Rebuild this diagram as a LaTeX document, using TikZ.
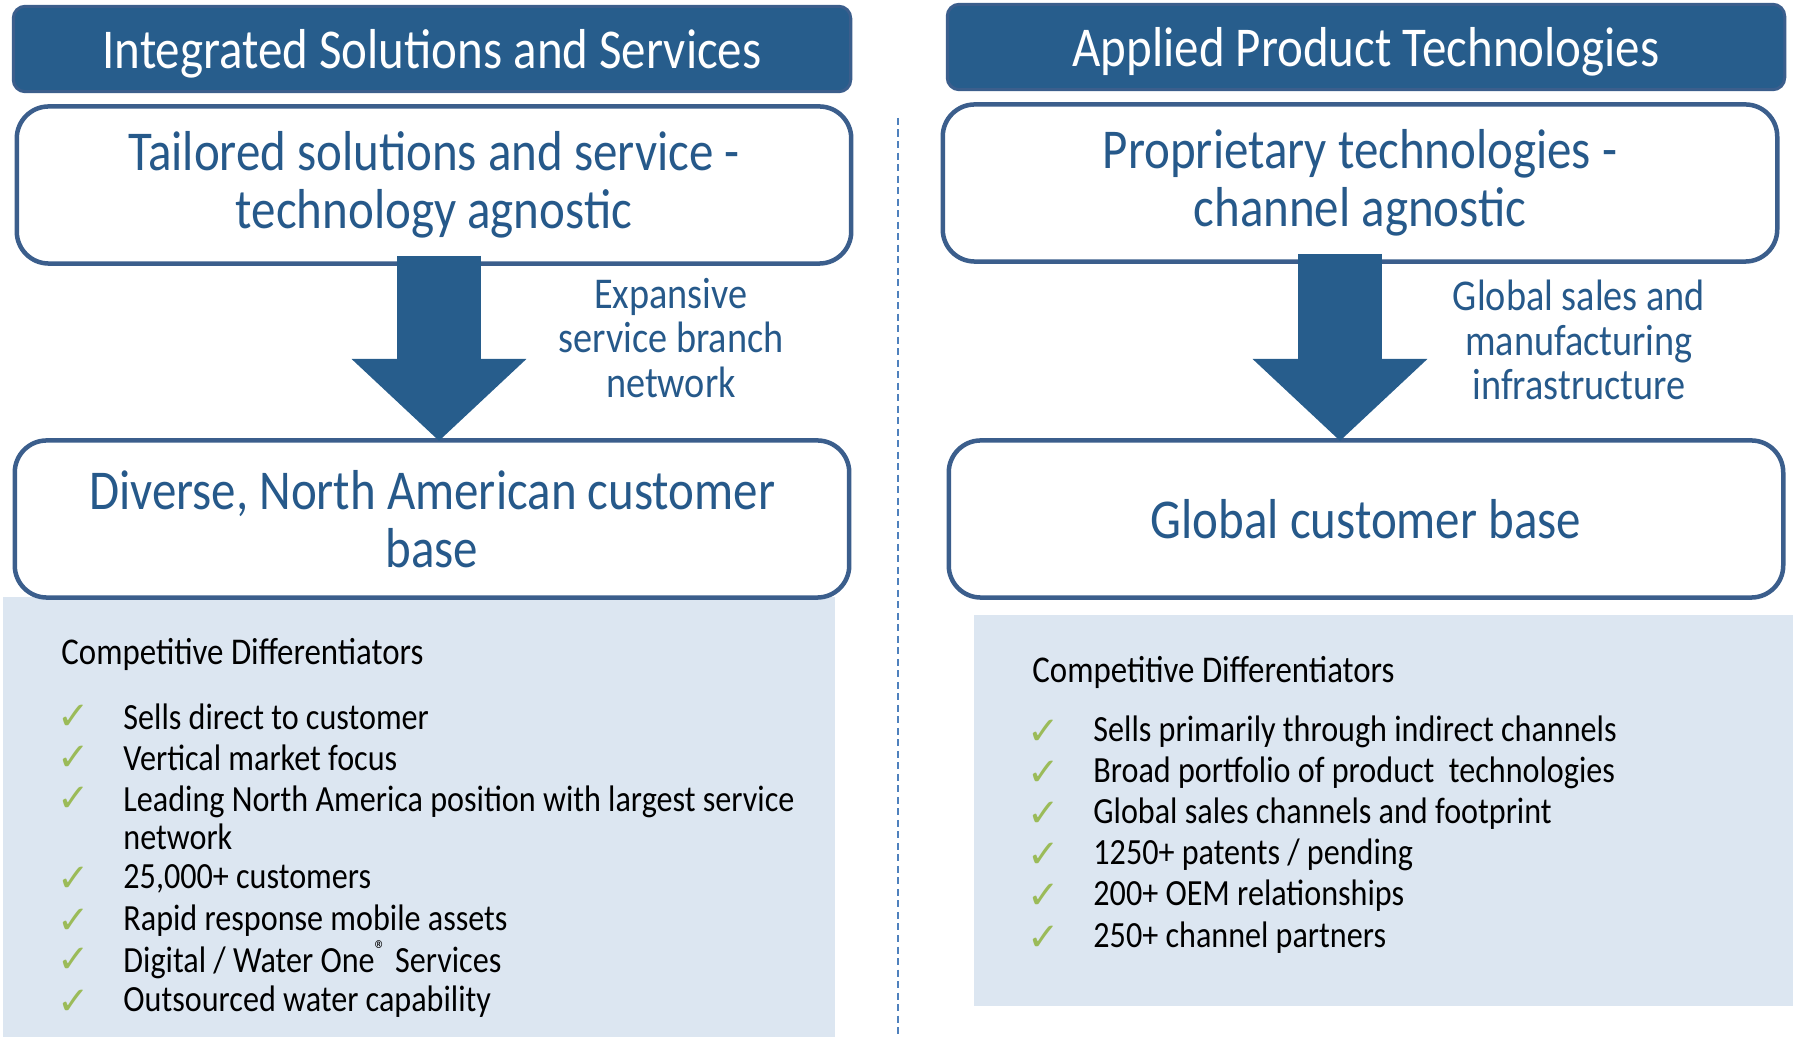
\documentclass[tikz,border=0pt]{standalone}
\usepackage{fontspec}
\setmainfont[FakeStretch=0.87]{Carlito}
\newfontfamily\checkfont{DejaVu Sans}
\usetikzlibrary{arrows.meta,calc}

\definecolor{barblue}{RGB}{39,93,140}
\definecolor{edgeblue}{RGB}{59,94,140}
\definecolor{textblue}{RGB}{38,89,138}
\definecolor{panelgray}{RGB}{220,230,241}
\definecolor{checkgreen}{RGB}{155,187,89}
\definecolor{dashblue}{RGB}{79,129,189}

\tikzset{
  titlebar/.style={fill=barblue,draw=edgeblue,line width=0.03cm,rounded corners=0.12cm,
    minimum width=8.37cm,minimum height=0.84cm,text height=0.5cm,text depth=0.12cm,
    text=white,font=\fontsize{16}{18}\selectfont},
  segbox/.style={fill=white,draw=edgeblue,line width=0.045cm,rounded corners=0.32cm,
    minimum width=8.34cm,minimum height=1.57cm,text=textblue,align=center,
    font=\fontsize{16}{16.5}\selectfont},
  flowarrow/.style={draw=barblue,line width=0.83cm,
    -{Triangle[width=1.7cm,length=0.82cm]},shorten <=-0.07cm},
  flowlabel/.style={text=textblue,align=center,font=\fontsize{12.5}{12.7}\selectfont},
  panel/.style={fill=panelgray},
  listhead/.style={anchor=west,font=\fontsize{10.75}{12}\selectfont},
  listitem/.style={anchor=west,align=left,font=\fontsize{10.5}{10.8}\selectfont},
  tick/.style={text=checkgreen,font=\checkfont\fontsize{11}{11}\selectfont}
}

\begin{document}
\begin{tikzpicture}[x=0.01cm,y=-0.01cm]
  \useasboundingbox (0,0) rectangle (1793,1037);

  % shaded panels behind the lower boxes
  \fill[panel] (3,597) rectangle (835,1037);
  \fill[panel] (974,615) rectangle (1793,1006);

  % divider between the two segments
  \draw[dashblue,line width=0.02cm,dash pattern=on 0.07cm off 0.045cm] (898,118) -- (898,1037);

  % left segment
  \node[titlebar] (isstitle) at (432,49) {Integrated Solutions and Services};
  \node[segbox] (tailored) at (434,185) {Tailored solutions and service -\\technology agnostic};
  \node[segbox] (diverse) at (432,519) {Diverse, North American customer\\base};
  \draw[flowarrow] (439,263) -- (439,441);
  \node[flowlabel] (isslabel) at (671,338) {Expansive\\service branch\\network};

  % right segment
  \node[titlebar] (apttitle) at (1366,47) {Applied Product Technologies};
  \node[segbox] (proprietary) at (1360,183) {Proprietary technologies -\\channel agnostic};
  \node[segbox] (global) at (1366,519) {Global customer base};
  \draw[flowarrow] (1340,261) -- (1340,441);
  \node[flowlabel] (aptlabel) at (1579,340) {Global sales and\\manufacturing\\infrastructure};

  % differentiators, left (check y / text y / text)
  \node[listhead] (isshead) at (49,654) {Competitive Differentiators};
  \foreach \cy/\ty/\txt [count=\i] in {717/717/{Sells direct to customer},
      758/758/{Vertical market focus},
      799/818/{Leading North America position with largest service\\network},
      879/879/{25,000+ customers},
      921/921/{Rapid response mobile assets},
      960/960/{Digital / Water One\textsuperscript{\textregistered} Services},
      1002/1002/{Outsourced water capability}}{
    \node[tick] (issck\i) at (74,\cy) {✓};
    \node[listitem] (issitem\i) at (111,\ty) {\txt};
  }

  % differentiators, right
  \node[listhead] (apthead) at (1020,672) {Competitive Differentiators};
  \foreach \y/\txt [count=\i] in {732/{Sells primarily through indirect channels},
      773/{Broad portfolio of product\ \ technologies},
      814/{Global sales channels and footprint},
      855/{1250+ patents / pending},
      896/{200+ OEM relationships},
      938/{250+ channel partners}}{
    \node[tick] (aptck\i) at (1044,\y) {✓};
    \node[listitem] (aptitem\i) at (1081,\y) {\txt};
  }
\end{tikzpicture}
\end{document}
